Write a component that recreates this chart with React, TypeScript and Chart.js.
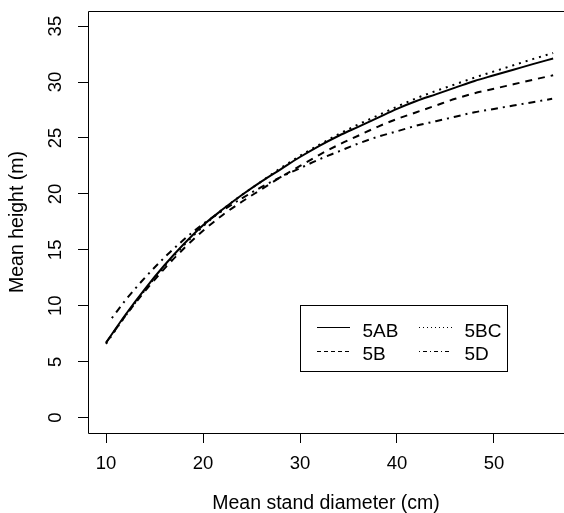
import React, { useEffect, useRef } from 'react';
import { Chart, registerables } from 'chart.js';

Chart.register(...registerables);

// Mean stand diameter (cm)
const diameters = [10, 12, 14, 16, 18, 20, 22, 24, 26, 28, 30, 32, 34, 36, 38, 40, 42, 44, 46, 48, 50, 52, 54, 56.1];
const diameters5D = [10.6, 12, 14, 16, 18, 20, 22, 24, 26, 28, 30, 32, 34, 36, 38, 40, 42, 44, 46, 48, 50, 52, 54, 56];

// Mean height (m)
const h5AB = [6.7, 9.2, 11.5, 13.6, 15.5, 17.2, 18.6, 19.9, 21.1, 22.2, 23.3, 24.3, 25.2, 26.0, 26.8, 27.6, 28.3, 28.9, 29.5, 30.1, 30.6, 31.1, 31.6, 32.1];
const h5B = [6.7, 9.1, 11.3, 13.3, 15.1, 16.7, 18.1, 19.3, 20.4, 21.5, 22.5, 23.5, 24.4, 25.2, 26.0, 26.7, 27.3, 27.9, 28.5, 29.0, 29.4, 29.8, 30.2, 30.6];
const h5BC = [6.6, 9.1, 11.4, 13.5, 15.4, 17.1, 18.6, 19.9, 21.1, 22.3, 23.4, 24.4, 25.35, 26.2, 27.0, 27.8, 28.55, 29.2, 29.8, 30.4, 30.95, 31.5, 32.05, 32.6];
const h5D = [8.9, 10.5, 12.5, 14.3, 15.9, 17.3, 18.5, 19.6, 20.6, 21.5, 22.3, 23.1, 23.8, 24.5, 25.1, 25.6, 26.1, 26.5, 26.9, 27.3, 27.6, 27.9, 28.2, 28.5];

const seriesLabels = ['5AB', '5B', '5BC', '5D'];
const xTicks = [10, 20, 30, 40, 50];
const yTicks = [0, 5, 10, 15, 20, 25, 30, 35];
const xRange = [8.14, 57.22];
const yRange = [-1.37, 36.35];

const FONT = '"Liberation Sans", Arial, Helvetica, sans-serif';
const lineDashes = [[], [7, 6], [2, 5], [2, 5, 7, 5]];
const legendDashes = [[], [4, 3], [1, 3], [1, 3, 4, 3]];

const pts = (xs: number[], ys: number[]) => xs.map((x, i) => ({ x, y: ys[i] }));

const boxPlugin = {
  id: 'rbox',
  afterDraw(chart: any) {
    const { ctx, chartArea } = chart;
    ctx.save();
    ctx.strokeStyle = '#000';
    ctx.lineWidth = 1;
    ctx.setLineDash([]);
    ctx.beginPath();
    ctx.moveTo(chart.width + 2, chartArea.top + 0.5);
    ctx.lineTo(chartArea.left + 0.5, chartArea.top + 0.5);
    ctx.lineTo(chartArea.left + 0.5, chartArea.bottom + 0.5);
    ctx.lineTo(chart.width + 2, chartArea.bottom + 0.5);
    ctx.stroke();
    ctx.restore();
  },
};

const legendPlugin = {
  id: 'rlegend',
  afterDraw(chart: any) {
    const ctx = chart.ctx;
    ctx.save();
    ctx.fillStyle = '#fff';
    ctx.fillRect(300.5, 305.5, 207, 66);
    ctx.strokeStyle = '#000';
    ctx.lineWidth = 1;
    ctx.setLineDash([]);
    ctx.strokeRect(300.5, 305.5, 207, 66);
    const cells = [
      [317, 327.5, 362.5, 337],
      [317, 351.5, 362.5, 360],
      [419, 327.5, 464.5, 337],
      [419, 351.5, 464.5, 360],
    ];
    chart.data.datasets.forEach((ds: any, i: number) => {
      const [x0, y, tx, ty] = cells[i];
      ctx.setLineDash(legendDashes[i]);
      ctx.strokeStyle = '#000';
      ctx.lineWidth = 1;
      ctx.beginPath();
      ctx.moveTo(x0, y);
      ctx.lineTo(x0 + 33, y);
      ctx.stroke();
      ctx.setLineDash([]);
      ctx.fillStyle = '#000';
      ctx.font = `19px ${FONT}`;
      ctx.textBaseline = 'alphabetic';
      ctx.textAlign = 'left';
      ctx.fillText(ds.label, tx, ty);
    });
    ctx.restore();
  },
};

export default function App() {
  const ref = useRef<HTMLCanvasElement>(null);
  useEffect(() => {
    const seriesX = [diameters, diameters, diameters, diameters5D];
    const seriesY = [h5AB, h5B, h5BC, h5D];
    const chart = new Chart(ref.current as HTMLCanvasElement, {
      type: 'line',
      data: {
        datasets: seriesLabels.map((label, i) => ({
          label,
          data: pts(seriesX[i], seriesY[i]),
          borderColor: '#000',
          borderWidth: 2,
          borderDash: lineDashes[i],
          pointRadius: 0,
          fill: false,
          cubicInterpolationMode: 'monotone',
        })),
      } as any,
      options: {
        animation: false,
        responsive: false,
        devicePixelRatio: 1,
        layout: { padding: { top: 11, left: 0, right: 0, bottom: 0 } },
        plugins: { legend: { display: false }, tooltip: { enabled: false } },
        scales: {
          x: {
            type: 'linear',
            min: xRange[0],
            max: xRange[1],
            afterBuildTicks: (s: any) => { s.ticks = xTicks.map((v) => ({ value: v })); },
            afterFit: (s: any) => { s.height = 80; s.paddingLeft = 0; s.paddingRight = 0; },
            grid: { drawOnChartArea: false, drawTicks: true, tickLength: 10, color: '#000', lineWidth: 1 },
            border: { display: false },
            ticks: { padding: 10, color: '#000', font: { family: FONT, size: 18.5 }, maxRotation: 0, autoSkip: false },
            title: { display: true, text: 'Mean stand diameter (cm)', color: '#000', font: { family: FONT, size: 19.5, lineHeight: 1 }, padding: { top: 0, bottom: 0 } },
          },
          y: {
            type: 'linear',
            min: yRange[0],
            max: yRange[1],
            afterBuildTicks: (s: any) => { s.ticks = yTicks.map((v) => ({ value: v })); },
            afterFit: (s: any) => { s.width = 88; s.paddingTop = 0; s.paddingBottom = 0; },
            grid: { drawOnChartArea: false, drawTicks: true, tickLength: 10, color: '#000', lineWidth: 1 },
            border: { display: false },
            ticks: { padding: 12, color: '#000', font: { family: FONT, size: 18.5 }, minRotation: 90, maxRotation: 90, crossAlign: 'center', autoSkip: false },
            title: { display: true, text: 'Mean height (m)', color: '#000', font: { family: FONT, size: 19.5, lineHeight: 1.2 }, padding: { top: 6, bottom: 0 } },
          },
        },
      } as any,
      plugins: [boxPlugin, legendPlugin],
    });
    return () => chart.destroy();
  }, []);
  return (
    <div style={{ position: 'absolute', left: 0, top: 0, width: 564, height: 513, background: '#fff' }}>
      <canvas ref={ref} width={564} height={513} style={{ display: 'block' }} />
    </div>
  );
}
